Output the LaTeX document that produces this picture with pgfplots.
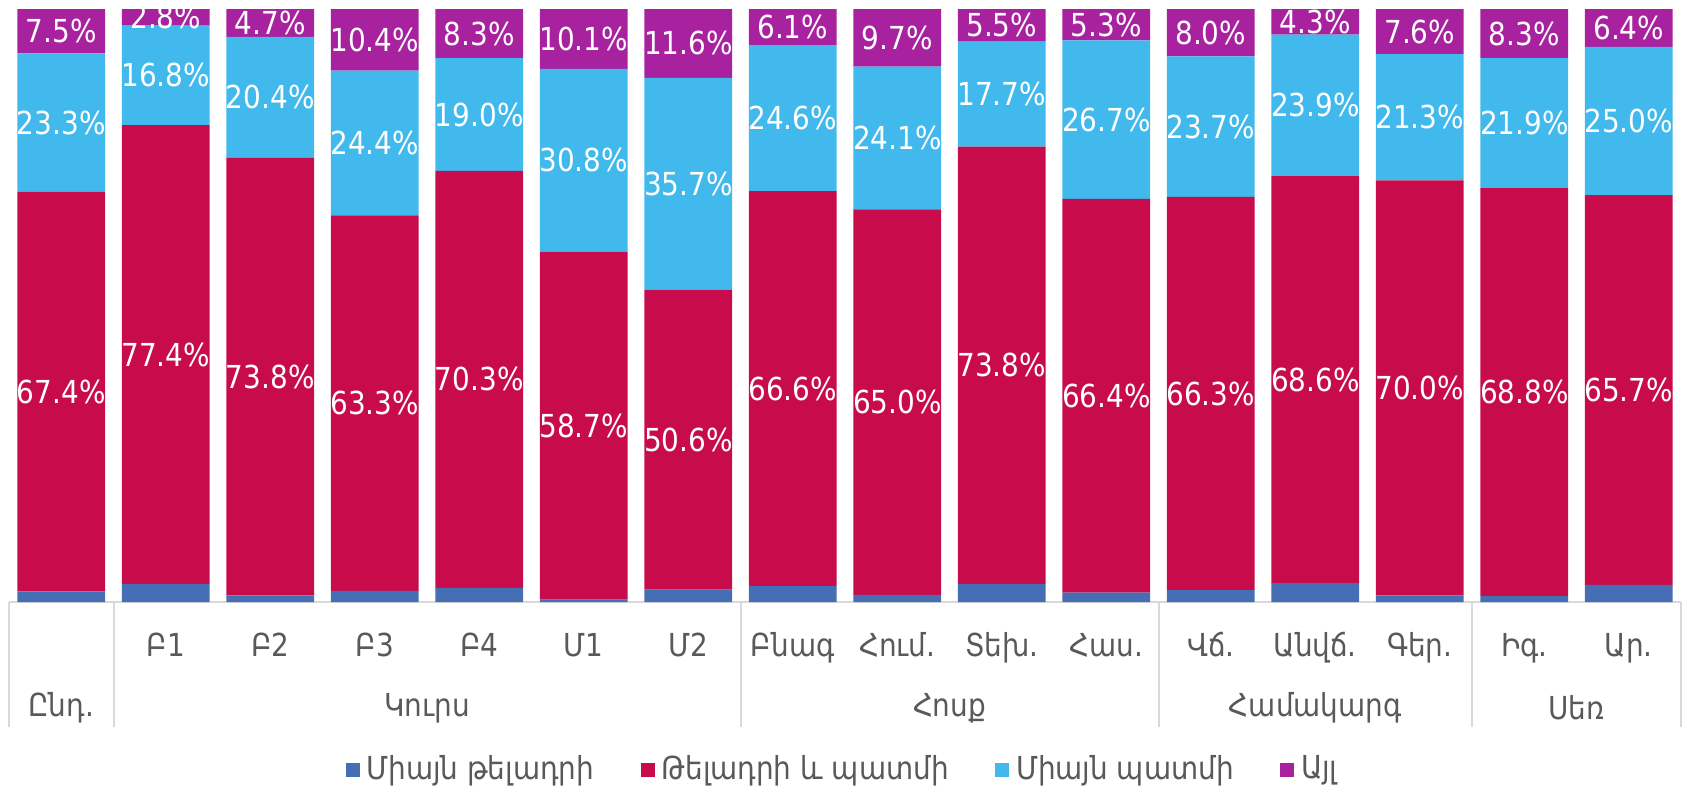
\documentclass[border=0pt]{standalone}
\usepackage{fontspec}
\setmainfont{DejaVu Sans}[FakeStretch=0.88]
\usepackage{pgfplots}
\usepackage{pgfplotstable}
\pgfplotsset{compat=1.18}

\definecolor{onlydict}{RGB}{70,110,180}
\definecolor{both}{RGB}{200,12,75}
\definecolor{onlytell}{RGB}{65,185,236}
\definecolor{other}{RGB}{168,34,160}
\definecolor{txt}{RGB}{89,89,89}
\definecolor{sepline}{RGB}{217,217,217}

\newcommand\lab{\fontsize{9.5}{11}\selectfont}

% x a=only dictation, b=dictation and retelling, c=only retelling, d=other
\pgfplotstableread{
x a b c d
0 1.8 67.4 23.3 7.5
1 3.0 77.4 16.8 2.8
2 1.1 73.8 20.4 4.7
3 1.9 63.3 24.4 10.4
4 2.4 70.3 19.0 8.3
5 0.4 58.7 30.8 10.1
6 2.1 50.6 35.7 11.6
7 2.7 66.6 24.6 6.1
8 1.2 65.0 24.1 9.7
9 3.0 73.8 17.7 5.5
10 1.6 66.4 26.7 5.3
11 2.0 66.3 23.7 8.0
12 3.2 68.6 23.9 4.3
13 1.1 70.0 21.3 7.6
14 1.0 68.8 21.9 8.3
15 2.9 65.7 25.0 6.4
}\shares

\pgfplotsset{
  seglabels/.style={
    nodes near coords={\pgfmathprintnumber[fixed,fixed zerofill,precision=1,assume math mode=true]{\pgfplotspointmeta}\%},
    every node near coord/.append style={anchor=center,
      inner sep=0pt, text=white, font=\lab},
  },
}
\tikzset{grp/.style={anchor=center, yshift=-31.8pt, text=txt, font=\lab}}

\begin{document}
\begin{tikzpicture}
\begin{axis}[
  scale only axis, width=501.6pt, height=177.9pt,
  ybar stacked, bar width=0.84,
  xmin=-0.5, xmax=15.5, ymin=0, ymax=100,
  axis line style={draw=none},
  ytick=\empty,
  xtick={0,...,15},
  xticklabels={,Բ1,Բ2,Բ3,Բ4,Մ1,Մ2,Բնագ,Հում.,Տեխ.,Հաս.,Վճ.,Անվճ.,Գեր.,Իգ.,Ար.},
  major tick length=0pt,
  xticklabel style={anchor=center, yshift=-14.1pt, font=\lab, text=txt},
  typeset ticklabels with strut,
  clip=false,
  point meta=explicit,
  every axis plot post/.append style={
    legend image code/.code={\fill[##1] (0pt,-2.1pt) rectangle (4.2pt,2.1pt);}},
  legend columns=4,
  legend style={at={(0.5,-0.283)}, anchor=center, draw=none, font=\lab,
    text=txt, /tikz/every even column/.append style={column sep=12pt}},
]
\addplot[fill=onlydict, draw=none] table[x=x, y=a, meta=a] {\shares};
\addplot[fill=both, draw=none, seglabels] table[x=x, y=b, meta=b] {\shares};
\addplot[fill=onlytell, draw=none, seglabels] table[x=x, y=c, meta=c] {\shares};
\addplot[fill=other, draw=none, seglabels] table[x=x, y=d, meta=d] {\shares};
\legend{Միայն թելադրի, Թելադրի և պատմի, Միայն պատմի, Այլ}

\draw[sepline, line width=0.6pt] (axis cs:-0.5,0) -- (axis cs:15.5,0);
\draw[sepline, line width=0.6pt]
  (axis cs:-0.5,0) -- ([yshift=-37.5pt]axis cs:-0.5,0)
  (axis cs:0.5,0) -- ([yshift=-37.5pt]axis cs:0.5,0)
  (axis cs:6.5,0) -- ([yshift=-37.5pt]axis cs:6.5,0)
  (axis cs:10.5,0) -- ([yshift=-37.5pt]axis cs:10.5,0)
  (axis cs:13.5,0) -- ([yshift=-37.5pt]axis cs:13.5,0)
  (axis cs:15.5,0) -- ([yshift=-37.5pt]axis cs:15.5,0);

\node[grp] at (axis cs:0,0) {Ընդ.};
\node[grp] at (axis cs:3.5,0) {Կուրս};
\node[grp] at (axis cs:8.5,0) {Հոսք};
\node[grp] at (axis cs:12,0) {Համակարգ};
\node[grp] at (axis cs:14.5,0) {Սեռ};

\coordinate (bl) at (rel axis cs:0,0);
\coordinate (tr) at (rel axis cs:1,1);
\end{axis}
\pgfresetboundingbox
\path[use as bounding box] ([shift={(-2.7pt,-55.8pt)}]bl) rectangle ([shift={(0.6pt,2.7pt)}]tr);
\end{tikzpicture}
\end{document}
